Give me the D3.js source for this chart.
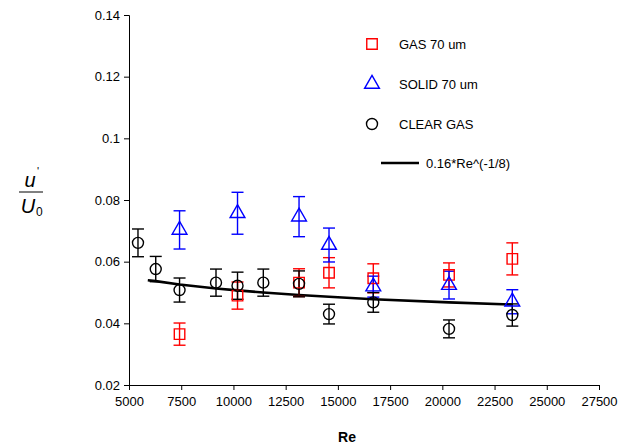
<!DOCTYPE html>
<html><head><meta charset="utf-8">
<script src="https://cdn.jsdelivr.net/npm/d3@7"></script>
<style>
body{margin:0;background:#fff;}
text{font-family:"Liberation Sans",Arial,sans-serif;}
</style></head>
<body><svg id="c" width="618" height="448"></svg>
<script>
// ---- data ----
const xTicks = [5000,7500,10000,12500,15000,17500,20000,22500,25000,27500];
const yTicks = [0.02,0.04,0.06,0.08,0.1,0.12,0.14];
const yTickLabels = ["0.02","0.04","0.06","0.08","0.1","0.12","0.14"];

const gasRe   = [7420, 10195, 13140, 14575, 16695, 20320, 23350];
const gasVal  = [0.0365, 0.0490, 0.0532, 0.0564, 0.0546, 0.0557, 0.0609];
const gasErr  = [0.0036, 0.0044, 0.0045, 0.0049, 0.0047, 0.0039, 0.0052];

const solidRe  = [7420, 10195, 13140, 14575, 16695, 20320, 23350];
const solidVal = [0.0703, 0.0757, 0.0746, 0.0654, 0.0519, 0.0524, 0.0470];
const solidErr = [0.0062, 0.0068, 0.0065, 0.0055, 0.0034, 0.0045, 0.0039];

const clearRe  = [5430, 6280, 7420, 9165, 10195, 11430, 13140, 14575, 16695, 20320, 23350];
const clearVal = [0.0661, 0.0576, 0.0508, 0.0532, 0.0522, 0.0532, 0.0528, 0.0430, 0.0468, 0.0382, 0.0427];
const clearErr = [0.0045, 0.0041, 0.0039, 0.0044, 0.0044, 0.0044, 0.0042, 0.0032, 0.0032, 0.0029, 0.0036];

const fitRe  = [5900, 6280, 7420, 9165, 10195, 11430, 13140, 14575, 16695, 20320, 23350];
const fitVal = [0.0540, 0.0537, 0.0526, 0.0513, 0.0507, 0.0500, 0.0492, 0.0486, 0.0478, 0.0468, 0.0461];

const legendLabels = ["GAS 70 um","SOLID 70 um","CLEAR GAS","0.16*Re^(-1/8)"];

// ---- drawing ----
const svg = d3.select("#c");
const x = d3.scaleLinear().domain([5000,27500]).range([129,599]);
const y = d3.scaleLinear().domain([0.02,0.14]).range([385,15]);

const xAxis = d3.axisBottom(x).tickValues(xTicks).tickSizeOuter(0).tickSize(5).tickFormat(d=>String(d));
const yAxis = d3.axisLeft(y).tickValues(yTicks).tickSizeOuter(0).tickSize(5).tickFormat((d,i)=>yTickLabels[i]);

const gx = svg.append("g").attr("transform","translate(0,385)").call(xAxis);
gx.selectAll("text").attr("font-size",13).attr("fill","#000").attr("dy","1.0em").attr("font-family","Liberation Sans, Arial, sans-serif");
gx.selectAll("path,line").attr("stroke","#000").attr("stroke-width",1);
const gy = svg.append("g").attr("transform","translate(129,0)").call(yAxis);
gy.selectAll("text").attr("font-size",13).attr("fill","#000").attr("x",-9).attr("font-family","Liberation Sans, Arial, sans-serif");
gy.selectAll("path,line").attr("stroke","#000").attr("stroke-width",1);

// fit line
const line = d3.line().x(d=>x(d[0])).y(d=>y(d[1]));
svg.append("path").datum(fitRe.map((r,i)=>[r,fitVal[i]]))
  .attr("d",line).attr("fill","none").attr("stroke","#000").attr("stroke-width",2.6);

function errorBars(res, vals, errs, color){
  const g = svg.append("g").attr("stroke",color).attr("stroke-width",1.4).attr("fill","none");
  res.forEach((r,i)=>{
    const cx=x(r), y1=y(vals[i]+errs[i]), y2=y(vals[i]-errs[i]);
    g.append("line").attr("x1",cx).attr("x2",cx).attr("y1",y1).attr("y2",y2);
    g.append("line").attr("x1",cx-6).attr("x2",cx+6).attr("y1",y1).attr("y2",y1);
    g.append("line").attr("x1",cx-6).attr("x2",cx+6).attr("y1",y2).attr("y2",y2);
  });
}
const sq = d3.symbol().type(d3.symbolSquare).size(110);
const tri = d3.symbol().type(d3.symbolTriangle).size(95);

errorBars(gasRe,gasVal,gasErr,"#ff0000");
errorBars(solidRe,solidVal,solidErr,"#0000ff");
errorBars(clearRe,clearVal,clearErr,"#000");

svg.append("g").selectAll("path").data(gasRe).join("path")
  .attr("d",sq).attr("transform",(d,i)=>`translate(${x(d)},${y(gasVal[i])})`)
  .attr("fill","none").attr("stroke","#ff0000").attr("stroke-width",1.4);
svg.append("g").selectAll("path").data(solidRe).join("path")
  .attr("d",tri).attr("transform",(d,i)=>`translate(${x(d)},${y(solidVal[i])})`)
  .attr("fill","none").attr("stroke","#0000ff").attr("stroke-width",1.4);
svg.append("g").selectAll("circle").data(clearRe).join("circle")
  .attr("cx",d=>x(d)).attr("cy",(d,i)=>y(clearVal[i])).attr("r",5.5)
  .attr("fill","none").attr("stroke","#000").attr("stroke-width",1.4);

// legend
const lg = svg.append("g");
lg.append("path").attr("d",sq).attr("transform","translate(372,44)").attr("fill","none").attr("stroke","#ff0000").attr("stroke-width",1.4);
lg.append("path").attr("d",tri).attr("transform","translate(372,84)").attr("fill","none").attr("stroke","#0000ff").attr("stroke-width",1.4);
lg.append("circle").attr("cx",372).attr("cy",124).attr("r",5.5).attr("fill","none").attr("stroke","#000").attr("stroke-width",1.4);
lg.append("line").attr("x1",381).attr("x2",419).attr("y1",163).attr("y2",163).attr("stroke","#000").attr("stroke-width",2.6);
const ly=[44,84,124,163], lx=[399,399,399,426];
legendLabels.forEach((t,i)=>{
  lg.append("text").attr("x",lx[i]).attr("y",ly[i]).attr("dy","0.35em").attr("font-size",13).text(t);
});

// axis titles
svg.append("text").attr("x",347).attr("y",442).attr("text-anchor","middle")
  .attr("font-size",14).attr("font-weight","bold").text("Re");
const yl = svg.append("g");
yl.append("text").attr("x",30).attr("y",187).attr("text-anchor","middle")
  .attr("font-size",20).attr("font-style","italic").attr("font-family","Liberation Serif, serif").text("u");
yl.append("text").attr("x",37).attr("y",175).attr("font-size",11).attr("font-family","Liberation Serif, serif").text("'");
yl.append("line").attr("x1",19).attr("x2",43).attr("y1",192).attr("y2",192).attr("stroke","#000").attr("stroke-width",1);
yl.append("text").attr("x",28).attr("y",213).attr("text-anchor","middle")
  .attr("font-size",20).attr("font-style","italic").attr("font-family","Liberation Serif, serif").text("U");
yl.append("text").attr("x",36).attr("y",216).attr("font-size",12).attr("font-family","Liberation Serif, serif").text("0");
</script></body></html>
